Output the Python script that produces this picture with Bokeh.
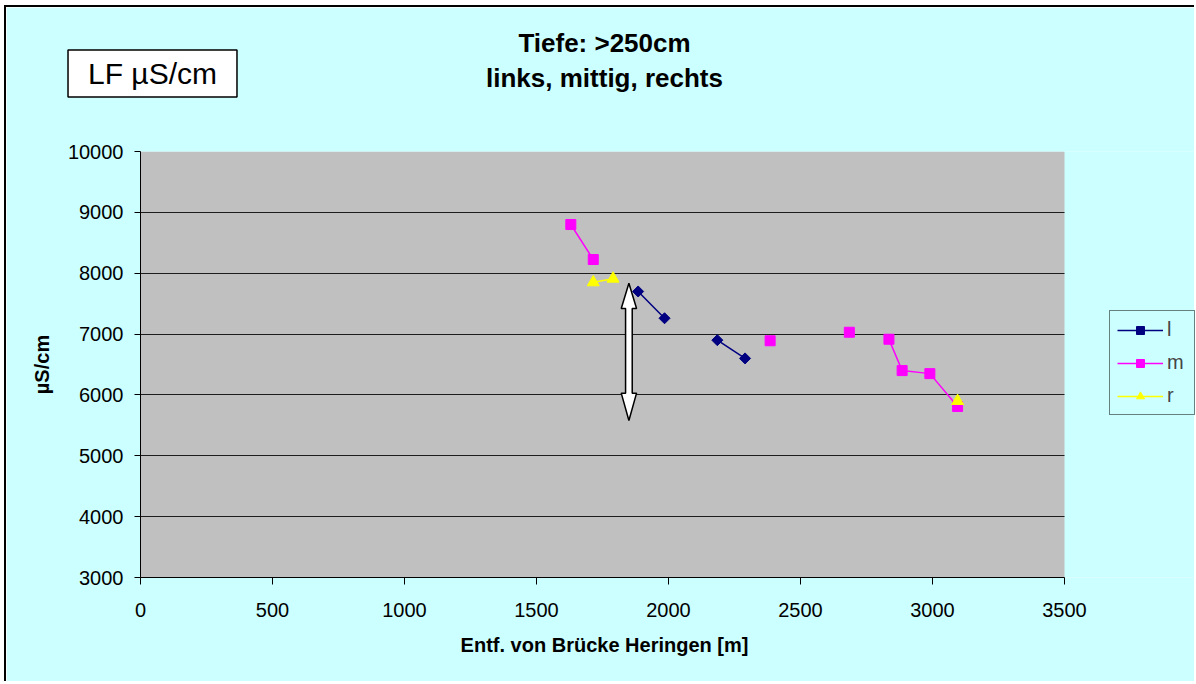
import numpy as np
from bokeh.plotting import figure
from bokeh.models import BoxAnnotation, FixedTicker, Label, Legend, LegendItem, Range1d
from bokeh.embed import file_html
from bokeh.resources import INLINE

nan = np.nan

# Entfernung von der Brücke Heringen [m] und Leitfähigkeit [µS/cm], Tiefe >250 cm
# (NaN trennt nicht verbundene Messabschnitte)
l_dist = [1885, 1985, nan, 2185, 2290]
l_lf = [7700, 7260, nan, 6900, 6600]

m_dist = [1630, 1715, nan, 2385, nan, 2685, nan, 2835, 2885, 2990, 3095]
m_lf = [8800, 8225, nan, 6890, nan, 7030, nan, 6915, 6400, 6350, 5810]

r_dist = [1715, 1790, nan, 3095]
r_lf = [7850, 7910, nan, 5900]

x_ticks = [0, 500, 1000, 1500, 2000, 2500, 3000, 3500]
y_ticks = [3000, 4000, 5000, 6000, 7000, 8000, 9000, 10000]

title_lines = ["Tiefe: >250cm", "links, mittig, rechts"]
param_label = "LF µS/cm"
x_title = "Entf. von Brücke Heringen [m]"

FONT = "Liberation Sans"
PAGE_BG = "#CCFFFF"
PLOT_BG = "#C0C0C0"

# canvas geometry (px); the frame runs on to the right edge so the legend fits inside it
W, H = 1190, 676
LEFT, TOP = 134, 144
FRAME_H = 426
BOTTOM = H - TOP - FRAME_H
AXIS_PX = 924                      # pixel length of 0 .. 3500 m
X_MAX, Y_MIN, Y_MAX = 3500, 3000, 10000
x_end = X_MAX * (W - LEFT) / AXIS_PX

p = figure(
    width=W, height=H,
    x_range=Range1d(0, x_end), y_range=Range1d(Y_MIN, Y_MAX),
    output_backend="svg", toolbar_location=None,
    min_border_left=LEFT, min_border_right=0,
    min_border_top=TOP, min_border_bottom=BOTTOM,
    background_fill_color=PAGE_BG, border_fill_color=PAGE_BG,
)
p.styles = {
    "border-left": "2px solid black",
    "border-top": "2px solid black",
    "margin-left": "4px",
    "margin-top": "5px",
    "vertical-align": "top",
}
p.outline_line_color = None

# grey plot area
p.add_layout(BoxAnnotation(left=0, right=X_MAX, bottom=Y_MIN, top=Y_MAX,
                           fill_color=PLOT_BG, fill_alpha=1, line_color=None,
                           level="image"))

# grid
p.xgrid.visible = False
p.ygrid.ticker = FixedTicker(ticks=y_ticks)
p.ygrid.cross_bounds = (0, X_MAX)
p.ygrid.grid_line_color = "black"
p.ygrid.grid_line_alpha = 0.85
p.ygrid.grid_line_width = 1

# axes
p.xaxis.ticker = FixedTicker(ticks=x_ticks)
p.xaxis.bounds = (0, X_MAX)
p.yaxis.ticker = FixedTicker(ticks=y_ticks)
for ax in (p.xaxis[0], p.yaxis[0]):
    ax.axis_line_color = "black"
    ax.major_tick_line_color = "black"
    ax.minor_tick_line_color = None
    ax.major_tick_in = 0
    ax.major_label_text_font = FONT
    ax.major_label_text_font_size = "20px"
    ax.major_label_text_color = "black"
    ax.axis_label_text_font = FONT
    ax.axis_label_text_font_size = "20px"
    ax.axis_label_text_font_style = "bold"
    ax.axis_label_text_color = "black"
p.xaxis.major_tick_out = 7
p.xaxis.major_label_standoff = 18
p.yaxis.major_tick_out = 6
p.yaxis.major_label_standoff = 11
p.yaxis.axis_label = "µS/cm"
p.yaxis.axis_label_standoff = 12

# x axis title, centred under the 0 .. 3500 m span
p.add_layout(Label(x=LEFT + AXIS_PX / 2, y=635, x_units="canvas", y_units="canvas",
                   text=x_title, text_align="center", text_baseline="middle",
                   text_font=FONT, text_font_style="bold", text_font_size="20px",
                   text_color="black"), "below")

# double-headed marker arrow
ax_x, head_w, shaft_w = 1850, 29, 12.6
a_top, a_head_top, a_head_bot, a_bot = 7836, 7420, 6029, 5580
p.patch(
    [ax_x, ax_x + head_w, ax_x + shaft_w, ax_x + shaft_w, ax_x + head_w,
     ax_x, ax_x - head_w, ax_x - shaft_w, ax_x - shaft_w, ax_x - head_w],
    [a_top, a_head_top, a_head_top, a_head_bot, a_head_bot,
     a_bot, a_head_bot, a_head_bot, a_head_top, a_head_top],
    fill_color="white", line_color="black", line_width=1.5,
)

# series
l_line = p.line(l_dist, l_lf, line_color="#000080", line_width=1.5)
l_pts = p.scatter(l_dist, l_lf, marker="square", angle=np.pi / 4, size=7.8,
                  fill_color="#000080", line_color="#000080")
m_line = p.line(m_dist, m_lf, line_color="#FF00FF", line_width=1.5)
m_pts = p.scatter(m_dist, m_lf, marker="square", size=10,
                  fill_color="#FF00FF", line_color="#FF00FF")
r_line = p.line(r_dist, r_lf, line_color="#FFFF00", line_width=1.5)
r_pts = p.scatter(r_dist, r_lf, marker="triangle", size=12,
                  fill_color="#FFFF00", line_color="#FFFF00")

legend = Legend(
    items=[
        LegendItem(label="l", renderers=[l_line, l_pts]),
        LegendItem(label="m", renderers=[m_line, m_pts]),
        LegendItem(label="r", renderers=[r_line, r_pts]),
    ],
    location=(969, 162),
    label_text_font=FONT, label_text_font_size="20px",
    glyph_width=46, glyph_height=20, spacing=10, padding=7, margin=0,
    label_standoff=4,
    border_line_color="black", border_line_width=1,
    background_fill_color=PAGE_BG, background_fill_alpha=1,
)
p.add_layout(legend)

# header texts, positioned in canvas pixels
for text, cy in zip(title_lines, (33, 68)):
    p.add_layout(Label(x=LEFT + AXIS_PX / 2, y=cy, x_units="canvas", y_units="canvas",
                       text=text, text_align="center", text_baseline="middle",
                       text_font=FONT, text_font_style="bold",
                       text_font_size="26px", text_color="black"), "above")

p.add_layout(Label(x=144, y=64, x_units="canvas", y_units="canvas", text=param_label,
                   text_align="center", text_baseline="middle",
                   text_font=FONT, text_font_size="30px", text_color="black",
                   background_fill_color="white", border_line_color="black",
                   border_line_width=1.5,
                   padding=dict(left=20, right=20, top=7, bottom=7)), "above")

open("out.html", "w").write(file_html(p, INLINE))
